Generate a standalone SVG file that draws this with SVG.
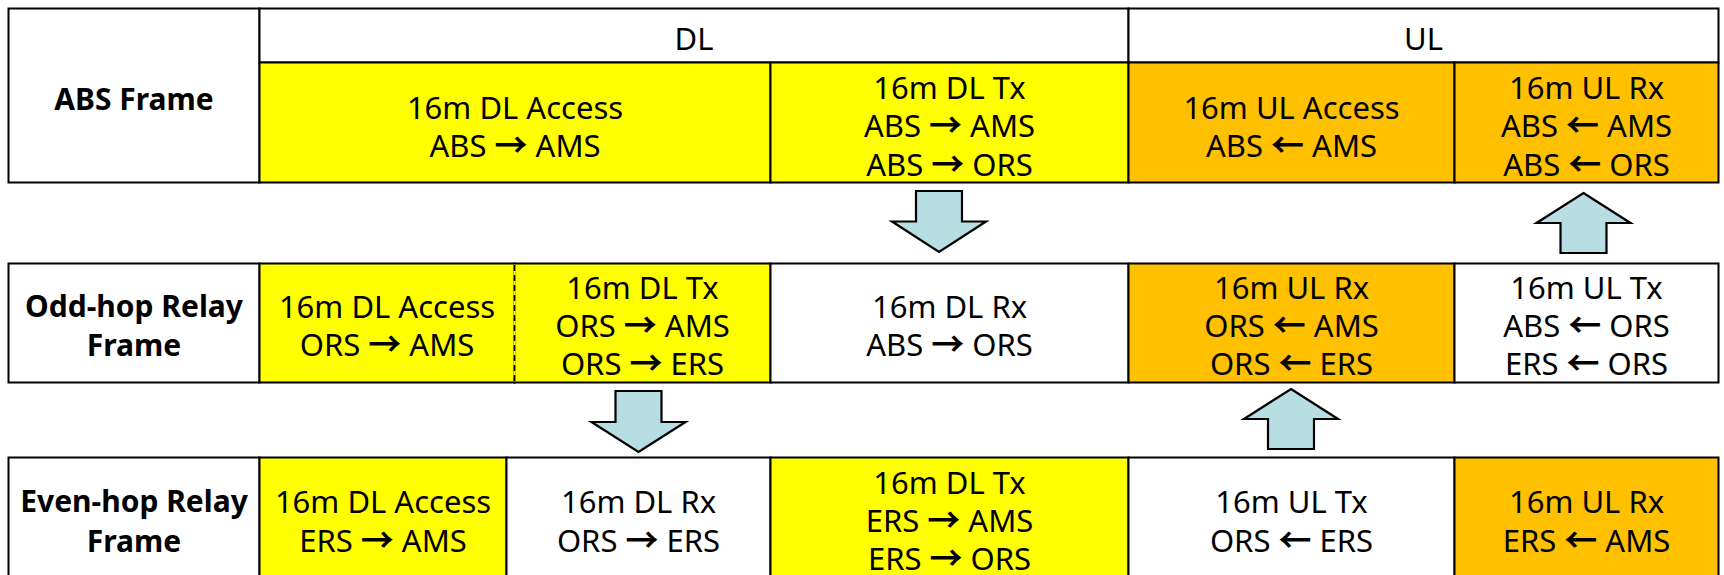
<svg xmlns="http://www.w3.org/2000/svg" width="1724" height="575" viewBox="0 0 1724 575">
  <style>
    .cell { stroke: #000; stroke-width: 2; }
    .w { fill: #ffffff; }
    .y { fill: #ffff00; }
    .o { fill: #ffc000; }
    .t { font-family: "Noto Sans", "Open Sans", sans-serif; font-size: 31px; fill: #000; text-anchor: middle; }
    .b { font-family: "Noto Sans", "Open Sans", sans-serif; font-size: 30px; font-weight: bold; fill: #000; text-anchor: middle; }
    .ar { font-family: "Noto Sans CJK KR", sans-serif; font-size: 33px; font-weight: bold; }
    .dash { stroke: #000; stroke-width: 1.6; stroke-dasharray: 6 4; fill: none; }
    .blk { fill: #b7dee2; stroke: #000; stroke-width: 2.2; stroke-linejoin: miter; }
  </style>

  <!-- ABS frame row -->
  <g id="abs-label"><rect class="cell w" x="8.5" y="8.5" width="251" height="174"/>
    <text class="b" x="134" y="110">ABS Frame</text></g>
  <g id="abs-dl-head"><rect class="cell w" x="259.5" y="8.5" width="869" height="54"/>
    <text class="t" x="694" y="50">DL</text></g>
  <g id="abs-ul-head"><rect class="cell w" x="1128.5" y="8.5" width="590" height="54"/>
    <text class="t" x="1423.5" y="50">UL</text></g>
  <g id="abs-dl-access"><rect class="cell y" x="259.5" y="62.5" width="511" height="120"/>
    <text class="t" x="515" y="119">16m DL Access<tspan x="515" y="157">ABS <tspan class="ar">→</tspan> AMS</tspan></text></g>
  <g id="abs-dl-tx"><rect class="cell y" x="770.5" y="62.5" width="358" height="120"/>
    <text class="t" x="949.5" y="99">16m DL Tx<tspan x="949.5" y="137">ABS <tspan class="ar">→</tspan> AMS</tspan><tspan x="949.5" y="175.5">ABS <tspan class="ar">→</tspan> ORS</tspan></text></g>
  <g id="abs-ul-access"><rect class="cell o" x="1128.5" y="62.5" width="326" height="120"/>
    <text class="t" x="1291.5" y="119">16m UL Access<tspan x="1291.5" y="157">ABS <tspan class="ar">←</tspan> AMS</tspan></text></g>
  <g id="abs-ul-rx"><rect class="cell o" x="1454.5" y="62.5" width="264" height="120"/>
    <text class="t" x="1586.5" y="99">16m UL Rx<tspan x="1586.5" y="137">ABS <tspan class="ar">←</tspan> AMS</tspan><tspan x="1586.5" y="175.5">ABS <tspan class="ar">←</tspan> ORS</tspan></text></g>

  <!-- Odd-hop relay frame row -->
  <g id="odd-label"><rect class="cell w" x="8.5" y="263.5" width="251" height="119"/>
    <text class="b" x="134" y="317">Odd-hop Relay<tspan x="134" y="356">Frame</tspan></text></g>
  <g id="odd-dl-access"><rect class="cell y" x="259.5" y="263.5" width="255" height="119"/>
    <text class="t" x="387" y="317.5">16m DL Access<tspan x="387" y="356">ORS <tspan class="ar">→</tspan> AMS</tspan></text></g>
  <g id="odd-dl-tx"><rect class="cell y" x="514.5" y="263.5" width="256" height="119"/>
    <line x1="514.5" y1="264.5" x2="514.5" y2="381.5" stroke="#ffff00" stroke-width="2.2"/>
    <text class="t" x="642.5" y="299">16m DL Tx<tspan x="642.5" y="337">ORS <tspan class="ar">→</tspan> AMS</tspan><tspan x="642.5" y="375">ORS <tspan class="ar">→</tspan> ERS</tspan></text></g>
  <!-- dashed split between access and transmit zones -->
  <line class="dash" x1="514.5" y1="265" x2="514.5" y2="381"/>
  <g id="odd-dl-rx"><rect class="cell w" x="770.5" y="263.5" width="358" height="119"/>
    <text class="t" x="949.5" y="317.5">16m DL Rx<tspan x="949.5" y="356">ABS <tspan class="ar">→</tspan> ORS</tspan></text></g>
  <g id="odd-ul-rx"><rect class="cell o" x="1128.5" y="263.5" width="326" height="119"/>
    <text class="t" x="1291.5" y="299">16m UL Rx<tspan x="1291.5" y="337">ORS <tspan class="ar">←</tspan> AMS</tspan><tspan x="1291.5" y="375">ORS <tspan class="ar">←</tspan> ERS</tspan></text></g>
  <g id="odd-ul-tx"><rect class="cell w" x="1454.5" y="263.5" width="264" height="119"/>
    <text class="t" x="1586.5" y="299">16m UL Tx<tspan x="1586.5" y="337">ABS <tspan class="ar">←</tspan> ORS</tspan><tspan x="1586.5" y="375">ERS <tspan class="ar">←</tspan> ORS</tspan></text></g>

  <!-- Even-hop relay frame row -->
  <g id="even-label"><rect class="cell w" x="8.5" y="457.5" width="251" height="140"/>
    <text class="b" x="134" y="512">Even-hop Relay<tspan x="134" y="551.5">Frame</tspan></text></g>
  <g id="even-dl-access"><rect class="cell y" x="259.5" y="457.5" width="247" height="140"/>
    <text class="t" x="383" y="512.5">16m DL Access<tspan x="383" y="551.5">ERS <tspan class="ar">→</tspan> AMS</tspan></text></g>
  <g id="even-dl-rx"><rect class="cell w" x="506.5" y="457.5" width="264" height="140"/>
    <text class="t" x="638.5" y="512.5">16m DL Rx<tspan x="638.5" y="551.5">ORS <tspan class="ar">→</tspan> ERS</tspan></text></g>
  <g id="even-dl-tx"><rect class="cell y" x="770.5" y="457.5" width="358" height="140"/>
    <text class="t" x="949.5" y="493.5">16m DL Tx<tspan x="949.5" y="531.5">ERS <tspan class="ar">→</tspan> AMS</tspan><tspan x="949.5" y="570">ERS <tspan class="ar">→</tspan> ORS</tspan></text></g>
  <g id="even-ul-tx"><rect class="cell w" x="1128.5" y="457.5" width="326" height="140"/>
    <text class="t" x="1291.5" y="512.5">16m UL Tx<tspan x="1291.5" y="551.5">ORS <tspan class="ar">←</tspan> ERS</tspan></text></g>
  <g id="even-ul-rx"><rect class="cell o" x="1454.5" y="457.5" width="264" height="140"/>
    <text class="t" x="1586.5" y="512.5">16m UL Rx<tspan x="1586.5" y="551.5">ERS <tspan class="ar">←</tspan> AMS</tspan></text></g>

  <!-- block arrows between frames -->
  <g id="connectors">
    <path class="blk" d="M916,191 H962 V221.5 H986 L939,252 L892,221.5 H916 Z"/>
    <path class="blk" d="M1583.5,193 L1630.5,223 H1606.5 V253 H1560.5 V223 H1536.5 Z"/>
    <path class="blk" d="M615.5,391 H661.5 V422 H685.5 L638.5,452 L591.5,422 H615.5 Z"/>
    <path class="blk" d="M1291,389 L1338,419 H1314 V449 H1268 V419 H1244 Z"/>
  </g>
</svg>
